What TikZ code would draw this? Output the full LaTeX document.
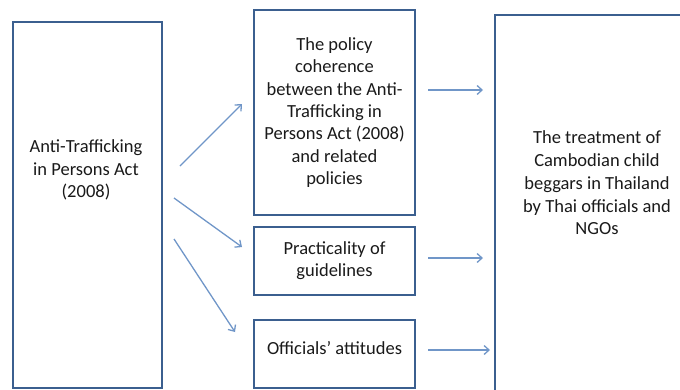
\documentclass[tikz,border=0pt]{standalone}
\usepackage{fontspec}
\setmainfont{Carlito}
\usepackage{xcolor}
\definecolor{BoxBlue}{HTML}{3B5F8F}
\definecolor{ArrowBlue}{HTML}{7096C8}
\definecolor{TextDark}{HTML}{1A1A1A}
\usepackage{tikz}
\usetikzlibrary{arrows.meta, positioning}
\tikzstyle{box} = [rectangle, draw=BoxBlue, fill=white, text=TextDark, line width=2pt, align=center, inner sep=0pt, font=\fontsize{18.5}{22.3}\selectfont]
\tikzstyle{label} = [text=TextDark, align=center, font=\fontsize{18.5}{22.8}\selectfont]
\tikzstyle{arrow} = [line width=1.3pt, color=ArrowBlue, -{Straight Barb[length=5pt,width=9pt]}]

\begin{document}
\begin{tikzpicture}[x=1pt, y=-1pt]
        \useasboundingbox (0,0) rectangle (680,389);
        \clip (0,0) rectangle (680,389);

        % the law on the left, the outcome on the right
        \node [box, minimum width=149pt, minimum height=366pt] (law) at (87.5,205) {};
        \node [label] (lawtext) at (86,170) {Anti-Trafficking\\in Persons Act\\(2008)};

        \node [box, minimum width=205pt, minimum height=390pt] (outcome) at (597.5,210) {};
        \node [label] (outcometext) at (597,183) {The treatment of\\Cambodian child\\beggars in Thailand\\by Thai officials and\\NGOs};

        % the three factors in the middle
        \node [box, minimum width=161pt, minimum height=205pt] (policy) at (334.5,112.5) {The policy\\coherence\\between the Anti-\\Trafficking in\\Persons Act (2008)\\and related\\policies};
        \node [box, below=10pt of policy, minimum width=161pt, minimum height=68pt] (practice) {Practicality of\\guidelines};
        \node [box, below=23pt of practice, minimum width=161pt, minimum height=68pt, text depth=12pt] (attitude) {Officials’ attitudes};

        % arrow ends, kept clear of the boxes
        \coordinate (lawA) at (180,166);  \coordinate (policyIn) at (242,104);
        \coordinate (lawB) at (174,198);  \coordinate (practiceIn) at (242,247);
        \coordinate (lawC) at (174,239);  \coordinate (attitudeIn) at (235,332);
        \coordinate (policyOut) at (428,90);    \coordinate (outA) at (483,90);
        \coordinate (practiceOut) at (428,258); \coordinate (outB) at (483,258);
        \coordinate (attitudeOut) at (428,350); \coordinate (outC) at (490,350);

        \draw [arrow] (lawA) -- (policyIn);
        \draw [arrow] (lawB) -- (practiceIn);
        \draw [arrow] (lawC) -- (attitudeIn);

        \draw [arrow] (policyOut) -- (outA);
        \draw [arrow] (practiceOut) -- (outB);
        \draw [arrow] (attitudeOut) -- (outC);
    \end{tikzpicture}
\end{document}
